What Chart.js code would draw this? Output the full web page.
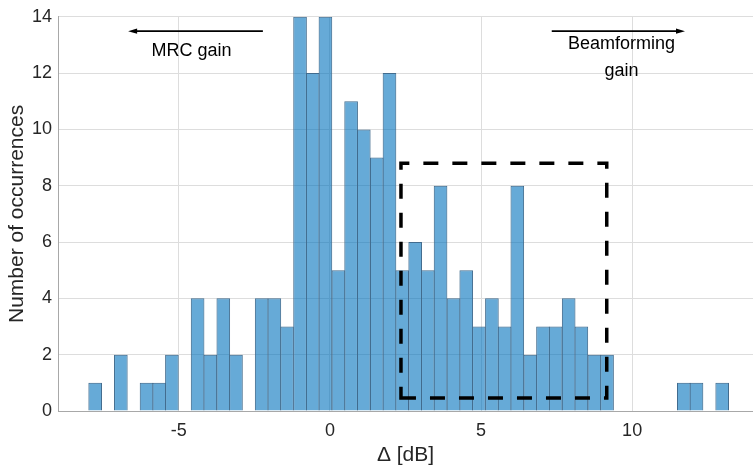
<!DOCTYPE html>
<html>
<head>
<meta charset="utf-8">
<script src="https://cdn.jsdelivr.net/npm/chart.js@4.4.0/dist/chart.umd.min.js"></script>
<style>
html, body { margin: 0; padding: 0; background: #fff; }
#wrap { width: 753px; height: 470px; }
</style>
</head>
<body>
<div id="wrap"><canvas id="myChart" width="753" height="470"></canvas></div>
<script>
// histogram bin centres [dB]
var binCenters = [-7.77, -7.35, -6.92, -6.50, -6.07, -5.65, -5.23, -4.80, -4.38, -3.96,
	-3.53, -3.11, -2.69, -2.26, -1.84, -1.42, -0.99, -0.57, -0.15, 0.28,
	0.70, 1.12, 1.55, 1.97, 2.39, 2.82, 3.24, 3.66, 4.09, 4.51,
	4.93, 5.36, 5.78, 6.20, 6.63, 7.05, 7.47, 7.90, 8.32, 8.75,
	9.17, 9.59, 10.02, 10.44, 10.86, 11.29, 11.71, 12.13, 12.56, 12.98];
// number of occurrences per bin
var counts = [1, 0, 2, 0, 1, 1, 2, 0, 4, 2,
	4, 2, 0, 4, 4, 3, 14, 12, 14, 5,
	11, 10, 9, 12, 5, 6, 5, 8, 4, 5,
	3, 4, 3, 8, 2, 3, 3, 4, 3, 2,
	2, 0, 0, 0, 0, 0, 1, 1, 0, 1];
var xTicks = [-5, 0, 5, 10];
var yTicks = [0, 2, 4, 6, 8, 10, 12, 14];

var fontFam = '"Liberation Sans", Arial, Helvetica, sans-serif';

// dashed box (data coords)
var boxX = [2.35, 9.16];
var boxY = [0.46, 8.80];

var extras = {
	id: 'extras',
	afterDatasetsDraw: function(chart) {
		var ctx = chart.ctx;
		var xs = chart.scales.x;
		var ys = chart.scales.y;
		ctx.save();

		// dashed rectangle
		var x0 = xs.getPixelForValue(boxX[0]), x1 = xs.getPixelForValue(boxX[1]);
		var y0 = ys.getPixelForValue(boxY[0]), y1 = ys.getPixelForValue(boxY[1]);
		ctx.strokeStyle = '#000';
		ctx.lineWidth = 3.5;
		ctx.setLineDash([15, 14]);
		ctx.beginPath();
		ctx.moveTo(x0, y0);
		ctx.lineTo(x1, y0);
		ctx.lineTo(x1, y1);
		ctx.lineTo(x0, y1);
		ctx.closePath();
		ctx.stroke();
		ctx.setLineDash([]);

		// arrows
		function arrow(a, b, yv) {
			var px0 = xs.getPixelForValue(a), px1 = xs.getPixelForValue(b);
			var py = ys.getPixelForValue(yv);
			var dir = px1 > px0 ? 1 : -1;
			ctx.strokeStyle = '#000';
			ctx.lineWidth = 1.6;
			ctx.beginPath();
			ctx.moveTo(px0, py);
			ctx.lineTo(px1 - dir * 6, py);
			ctx.stroke();
			ctx.fillStyle = '#000';
			ctx.beginPath();
			ctx.moveTo(px1, py);
			ctx.lineTo(px1 - dir * 9, py - 2.6);
			ctx.lineTo(px1 - dir * 9, py + 2.6);
			ctx.closePath();
			ctx.fill();
		}
		arrow(-2.22, -6.68, 13.49);
		arrow(7.34, 11.75, 13.49);

		// labels
		ctx.fillStyle = '#000';
		ctx.font = '18px ' + fontFam;
		ctx.textAlign = 'center';
		ctx.textBaseline = 'middle';
		ctx.fillText('MRC gain', xs.getPixelForValue(-4.58), ys.getPixelForValue(12.8));
		ctx.fillText('Beamforming', xs.getPixelForValue(9.65), ys.getPixelForValue(13.04));
		ctx.fillText('gain', xs.getPixelForValue(9.65), ys.getPixelForValue(12.06));
		ctx.restore();
	}
};

var points = binCenters.map(function(v, i) { return { x: v, y: counts[i] }; });

var ctx = document.getElementById('myChart').getContext('2d');
var chart = new Chart(ctx, {
	type: 'bar',
	data: {
		datasets: [{
			data: points,
			backgroundColor: 'rgba(0, 114, 189, 0.6)',
			borderColor: 'rgb(66, 108, 142)',
			borderWidth: 1,
			// slightly wider than the bin so neighbouring edges overlap into one line
			barPercentage: 1.075,
			categoryPercentage: 1
		}]
	},
	options: {
		responsive: false,
		animation: false,
		layout: { padding: { top: 14, right: 0, left: 0, bottom: 0 } },
		plugins: {
			legend: { display: false },
			tooltip: { enabled: false }
		},
		scales: {
			x: {
				type: 'linear',
				min: -9,
				max: 14,
				offset: false,
				afterBuildTicks: function(axis) {
					axis.ticks = xTicks.map(function(v) { return { value: v }; });
				},
				afterFit: function(axis) { axis.height = 59; },
				grid: { color: '#dddddd', drawTicks: false, offset: false },
				border: { color: '#a8a8a8' },
				ticks: { color: '#262626', font: { size: 18, family: fontFam }, padding: 9, maxRotation: 0 },
				title: { display: true, text: 'Δ [dB]', color: '#262626', font: { size: 21, family: fontFam }, padding: { top: 0, bottom: 2 } }
			},
			y: {
				min: 0,
				max: 14,
				afterBuildTicks: function(axis) {
					axis.ticks = yTicks.map(function(v) { return { value: v }; });
				},
				afterFit: function(axis) { axis.width = 58; },
				grid: { color: '#dddddd', drawTicks: false },
				border: { color: '#a8a8a8' },
				ticks: { color: '#262626', font: { size: 18, family: fontFam }, padding: 6 },
				title: { display: true, text: 'Number of occurrences', color: '#262626', font: { size: 21, family: fontFam }, padding: { top: 5, bottom: 0 } }
			}
		}
	},
	plugins: [extras]
});
</script>
</body>
</html>
